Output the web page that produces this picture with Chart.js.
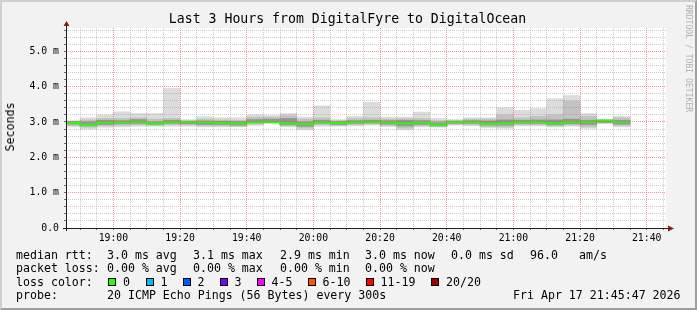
<!DOCTYPE html>
<html>
<head>
<meta charset="utf-8">
<script src="https://cdn.jsdelivr.net/npm/chart.js@4.4.1/dist/chart.umd.min.js"></script>
<style>
  html, body { margin: 0; padding: 0; }
  body { width: 697px; height: 310px; background: #f2f2f2; position: relative; overflow: hidden;
         font-family: "DejaVu Sans Mono", monospace; color: #000; }
  #chart { position: absolute; left: 0; top: 0; }
  #frame { position: absolute; left: 0; top: 0; width: 697px; height: 310px; box-sizing: border-box;
           border-style: solid; border-width: 2px; border-color: #cfcfcf #9e9e9e #9e9e9e #cfcfcf; pointer-events: none; }
  .t { position: absolute; white-space: pre; font-size: 11.6px; line-height: 14px; }
  .box { position: absolute; width: 8px; height: 8px; box-sizing: border-box; border: 1px solid #000; }
  #title { position: absolute; left: -1px; top: 11px; width: 697px; text-align: center;
           font-size: 13.2px; line-height: 16px; white-space: pre; }
  #ytitle { position: absolute; left: 9.5px; top: 127px; font-size: 11.6px; line-height: 14px;
            white-space: pre; transform: translate(-50%, -50%) rotate(-90deg); }
  #credit { position: absolute; left: 684px; top: 5px; writing-mode: vertical-rl; font-size: 8.1px;
            line-height: 10px; color: #b0b0b0; white-space: pre; }
</style>
</head>
<body>
<canvas id="chart" width="697" height="310"></canvas>
<div id="title">Last 3 Hours from DigitalFyre to DigitalOcean</div>
<div id="ytitle">Seconds</div>
<div id="credit">RRDTOOL / TOBI OETIKER</div>
<div id="legend"></div>
<div id="frame"></div>
<script>
// rrd timestamps, each closes a 300s step
const binEnds = ['18:50', '18:55', '19:00', '19:05', '19:10', '19:15', '19:20', '19:25', '19:30', '19:35',
                 '19:40', '19:45', '19:50', '19:55', '20:00', '20:05', '20:10', '20:15', '20:20', '20:25',
                 '20:30', '20:35', '20:40', '20:45', '20:50', '20:55', '21:00', '21:05', '21:10', '21:15',
                 '21:20', '21:25', '21:30', '21:35'];
const viewStart = '18:45:47';
const viewEnd = '21:45:47';

// smoke, in ms (outer -> inner pairs of sorted pings) and the median
const pingMax = [3.04, 3.12, 3.20, 3.29, 3.24, 3.24, 3.95, 3.07, 3.15, 3.12, 3.12, 3.20, 3.18, 3.24, 3.14, 3.46, 3.07,
                 3.16, 3.56, 3.14, 3.14, 3.28, 3.10, 3.07, 3.12, 3.12, 3.40, 3.33, 3.38, 3.66, 3.75, 3.24, 3.06, 3.16];
const pingHi2 = [3.02, 3.06, 3.10, 3.10, 3.12, 3.08, 3.10, 3.04, 3.08, 3.06, 3.05, 3.14, 3.14, 3.18, 3.08, 3.12, 3.04,
                 3.10, 3.12, 3.08, 3.09, 3.10, 3.04, 3.05, 3.08, 3.08, 3.20, 3.12, 3.16, 3.20, 3.59, 3.16, 3.06, 3.12];
const pingHi3 = [3.01, 3.00, 3.05, 3.04, 3.07, 3.00, 3.05, 3.02, 3.03, 3.02, 3.01, 3.07, 3.08, 3.10, 3.00, 3.05, 3.01,
                 3.04, 3.05, 3.04, 3.05, 3.04, 2.98, 3.02, 3.04, 3.03, 3.06, 3.05, 3.06, 3.06, 3.08, 3.05, 3.05, 3.05];
const median  = [2.98, 2.92, 2.99, 2.99, 3.01, 2.95, 3.00, 3.00, 2.99, 2.98, 2.96, 3.00, 3.00, 2.96, 2.94, 3.00, 2.97,
                 3.00, 3.01, 2.99, 2.96, 2.99, 2.92, 3.00, 3.00, 2.95, 2.96, 3.00, 3.00, 2.96, 3.00, 3.00, 3.04, 3.00];
const pingLo3 = [2.94, 2.89, 2.93, 2.95, 2.96, 2.93, 2.96, 2.95, 2.93, 2.93, 2.91, 2.97, 2.98, 2.92, 2.88, 2.96, 2.93,
                 2.96, 2.97, 2.94, 2.89, 2.93, 2.89, 2.96, 2.96, 2.91, 2.91, 2.96, 2.96, 2.92, 2.95, 2.93, 2.99, 2.94];
const pingLo2 = [2.90, 2.85, 2.89, 2.90, 2.92, 2.90, 2.92, 2.91, 2.89, 2.89, 2.88, 2.94, 2.97, 2.89, 2.83, 2.92, 2.90,
                 2.92, 2.94, 2.90, 2.83, 2.89, 2.87, 2.93, 2.92, 2.87, 2.86, 2.92, 2.92, 2.89, 2.91, 2.86, 2.97, 2.90];
const pingMin = [2.86, 2.80, 2.85, 2.86, 2.88, 2.88, 2.88, 2.88, 2.86, 2.86, 2.86, 2.90, 2.96, 2.86, 2.78, 2.88, 2.88,
                 2.89, 2.91, 2.87, 2.78, 2.86, 2.85, 2.91, 2.89, 2.84, 2.82, 2.89, 2.89, 2.86, 2.88, 2.82, 2.95, 2.86];

// legend numbers
const rttNames = ['avg', 'max', 'min', 'now'];
const rttValues = [3.0, 3.1, 2.9, 3.0];
const rttSd = 0.0;
const amPerS = 96.0;
const lossValues = [0.00, 0.00, 0.00, 0.00];
const lossLabels = ['0', '1', '2', '3', '4-5', '6-10', '11-19', '20/20'];
const lossColors = ['#26ff00', '#00b8ff', '#0059ff', '#7e00ff', '#ff00ff', '#ff5500', '#ff0000', '#a10000'];
const probeText = '20 ICMP Echo Pings (56 Bytes) every 300s';
const stampText = 'Fri Apr 17 21:45:47 2026';

const yMax = 5.66;
const yStep = 0.2;
const step = 5;
const labelEvery = 20;

function toMin(s) {
    const p = s.split(':').map(Number);
    return p[0] * 60 + p[1] + (p[2] || 0) / 60;
}
const binMin = binEnds.map(toMin);

function band(lo, hi) {
    return binMin.map((t, i) => ({ x: t - step / 2, y: [lo[i], hi[i]] }));
}
function stepLine(v) {
    const pts = [];
    binMin.forEach((t, i) => { pts.push({ x: t - step, y: v[i] }, { x: t, y: v[i] }); });
    return pts;
}
function hhmm(m) {
    const h = Math.floor(m / 60), mm = Math.round(m % 60);
    return String(h).padStart(2, '0') + ':' + String(mm).padStart(2, '0');
}
const onGrid = (v, every) => Math.abs(v / every - Math.round(v / every)) < 1e-6;

// tick values on a fixed grid (multiples of the step) inside a range
function gridValues(min, max, every) {
    const out = [];
    for (let k = Math.ceil(min / every - 1e-9); k * every <= max + 1e-9; k++) {
        out.push(Math.round(k * every * 1000) / 1000);
    }
    return out;
}
const xTicks = gridValues(toMin(viewStart), toMin(viewEnd), step);
const yTicks = gridValues(0, yMax, yStep);

// rrdtool style grid colours
const majorGrid = 'rgba(222,79,79,0.6)';
const minorGrid = 'rgba(143,143,143,0.45)';

// white canvas + rrdtool style axes with arrows
const rrdFrame = {
    id: 'rrdFrame',
    beforeDraw(chart) {
        const a = chart.chartArea, ctx = chart.ctx;
        ctx.save();
        ctx.fillStyle = '#ffffff';
        ctx.fillRect(a.left, a.top, a.right - a.left, a.bottom - a.top);
        ctx.restore();
    },
    afterDraw(chart) {
        const a = chart.chartArea, ctx = chart.ctx;
        const x0 = a.left + 0.5, y0 = a.bottom + 0.5;
        ctx.save();
        ctx.strokeStyle = '#1f1f1f';
        ctx.lineWidth = 1;
        ctx.beginPath();
        ctx.moveTo(a.left - 3, y0); ctx.lineTo(a.right + 3, y0);
        ctx.moveTo(x0, a.bottom + 3); ctx.lineTo(x0, a.top - 3);
        ctx.stroke();
        ctx.fillStyle = '#801f1f';
        ctx.beginPath();
        ctx.moveTo(a.right + 2, y0 - 3); ctx.lineTo(a.right + 8, y0); ctx.lineTo(a.right + 2, y0 + 3);
        ctx.closePath(); ctx.fill();
        ctx.beginPath();
        ctx.moveTo(x0 - 3, a.top - 2); ctx.lineTo(x0, a.top - 7); ctx.lineTo(x0 + 3, a.top - 2);
        ctx.closePath(); ctx.fill();
        ctx.restore();
    }
};

const barOpts = { type: 'bar', borderWidth: 0, grouped: false, barPercentage: 1, categoryPercentage: 1, clip: 0 };

new Chart(document.getElementById('chart'), {
    type: 'bar',
    data: {
        datasets: [
            { type: 'line', data: stepLine(median), borderColor: lossColors[0], borderWidth: 2,
              pointRadius: 0, fill: false, tension: 0, clip: 0, order: 0 },
            Object.assign({ data: band(pingLo3, pingHi3), backgroundColor: '#959595', order: 1 }, barOpts),
            Object.assign({ data: band(pingLo2, pingHi2), backgroundColor: '#c2c2c2', order: 2 }, barOpts),
            Object.assign({ data: band(pingMin, pingMax), backgroundColor: '#dcdcdc', order: 3 }, barOpts)
        ]
    },
    options: {
        responsive: false,
        animation: false,
        devicePixelRatio: 1,
        layout: { autoPadding: false, padding: { left: 0, top: 28, right: 31, bottom: 62 } },
        plugins: { legend: { display: false }, tooltip: { enabled: false }, title: { display: false } },
        scales: {
            x: {
                type: 'linear',
                min: toMin(viewStart),
                max: toMin(viewEnd),
                offset: false,
                afterBuildTicks: s => { s.ticks = xTicks.map(v => ({ value: v })); },
                afterFit(s) { s.height = 20; },
                border: { display: false, dash: [1, 1] },
                grid: {
                    offset: false, z: 1, tickLength: 2, tickColor: 'rgba(0,0,0,0.55)',
                    color: xTicks.map(v => (onGrid(v, labelEvery) ? majorGrid : minorGrid))
                },
                ticks: {
                    autoSkip: false, maxRotation: 0, minRotation: 0, padding: 3, color: '#000',
                    font: { family: 'DejaVu Sans Mono', size: 9.8 },
                    callback: v => (onGrid(v, labelEvery) ? hhmm(v) : '')
                }
            },
            y: {
                type: 'linear',
                min: 0,
                max: yMax,
                afterBuildTicks: s => { s.ticks = yTicks.map(v => ({ value: v })); },
                afterFit(s) { s.width = 66; },
                border: { display: false, dash: [1, 1] },
                grid: {
                    z: 1, tickLength: 2, tickColor: 'rgba(0,0,0,0.55)',
                    color: yTicks.map(v => (onGrid(v, 1) ? majorGrid : minorGrid))
                },
                ticks: {
                    autoSkip: false, padding: 5, color: '#000',
                    font: { family: 'DejaVu Sans Mono', size: 9.8 },
                    callback: v => (onGrid(v, 1) ? (Math.round(v) === 0 ? '0.0' : v.toFixed(1) + ' m') : '')
                }
            }
        }
    },
    plugins: [rrdFrame]
});

// legend text under the graph
const legend = document.getElementById('legend');
function put(x, top, text) {
    const d = document.createElement('div');
    d.className = 't';
    d.style.left = x + 'px';
    d.style.top = top + 'px';
    d.textContent = text;
    legend.appendChild(d);
    return d;
}
const cols = [107, 193, 280, 365];
const rows = [247.5, 261, 274.5, 288];

put(16, rows[0], 'median rtt:');
rttValues.forEach((v, i) => put(cols[i], rows[0], v.toFixed(1) + ' ms ' + rttNames[i]));
put(451, rows[0], rttSd.toFixed(1) + ' ms sd');
put(530, rows[0], amPerS.toFixed(1));
put(579, rows[0], 'am/s');

put(16, rows[1], 'packet loss:');
lossValues.forEach((v, i) => put(cols[i], rows[1], v.toFixed(2) + ' % ' + rttNames[i]));

put(16, rows[2], 'loss color:');
const boxX = [108, 145.5, 182.5, 219.5, 256.5, 307.5, 365.5, 431];
lossLabels.forEach((lab, i) => {
    const b = document.createElement('div');
    b.className = 'box';
    b.style.left = boxX[i] + 'px';
    b.style.top = '278px';
    b.style.background = lossColors[i];
    legend.appendChild(b);
    put(boxX[i] + 15, rows[2], lab);
});

put(16, rows[3], 'probe:');
put(107, rows[3], probeText);
put(513, rows[3], stampText);
</script>
</body>
</html>
